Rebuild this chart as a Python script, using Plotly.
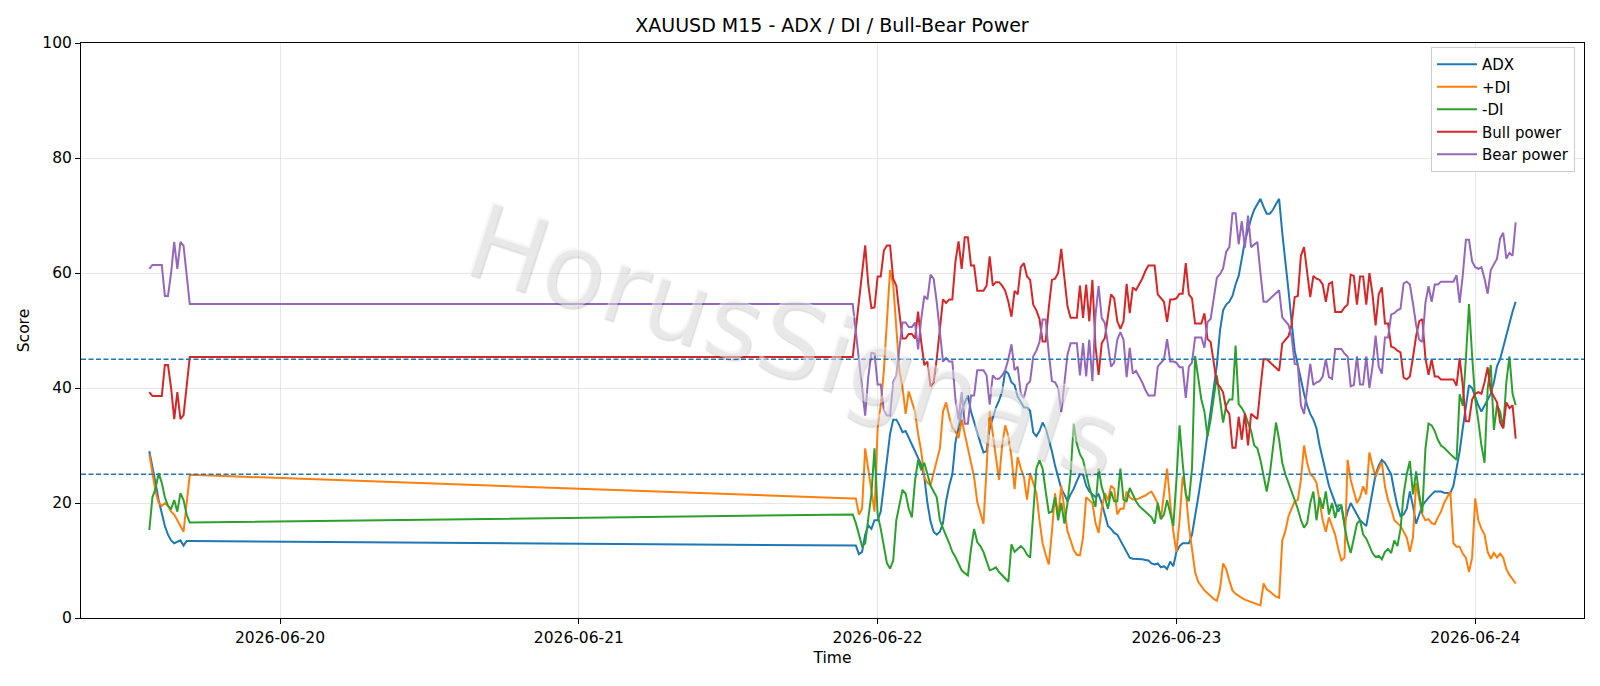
import pandas as pd
import plotly.graph_objects as go

# ---- time axis: Friday session then the new week (15-minute bars) ----
times_fri = pd.date_range("2026-06-19 13:30", periods=14, freq="15min")
times_week = pd.date_range("2026-06-21 22:00", periods=214, freq="15min")
times = list(times_fri) + list(times_week)

adx = [29, 26.5, 23.5, 20.5, 18, 16, 14.5, 13.5, 13, 13.2, 13.5, 12.6, 13.4, 13.4,
       12.6, 12.6, 11.1, 11.5, 14.5, 16.1, 15.5, 17, 17, 18.5,
       23, 28, 32, 34.5, 34.5, 33.5, 32.3, 32.5, 31.3, 30,
       28.8, 27.7, 26.7, 24.5, 20, 16.8, 15, 14.5, 15, 16.5,
       20.3, 23, 25, 30.5, 33.5, 36, 37.5, 38.7, 35.9, 34,
       32.3, 30.5, 28.8, 29, 33, 35, 36.6, 37.8, 39.4, 43,
       42.5, 41, 40.5, 38.5, 37.5, 36.6, 36.6, 36, 32.3, 31.6,
       32.5, 34, 33, 31, 29, 26.5, 24.3, 22.5, 21.5, 20.3,
       21.5, 22.5, 23.8, 25, 25, 23, 22, 21.5, 21, 21.5,
       20, 18, 16, 15.5, 14.8, 14.5, 13.5, 12.5, 11.5, 10.5,
       10.3, 10.3, 10.2, 10.2, 10.1, 10, 9.5, 9.3, 9.5, 8.8,
       9, 8.5, 9.8, 9, 11.5, 12.5, 13, 13, 13, 14.5,
       17.5, 21, 24.5, 28, 32, 36, 40, 44, 50, 53.5,
       54.5, 55, 56, 58, 59.5, 62.5, 65.5, 67.5, 69.5, 71,
       72, 72.9, 71.5, 70.3, 70.3, 71, 72, 72.9, 67, 62.5,
       57, 51.5, 46.5, 44, 41.3, 39, 37, 35.5, 34.5, 33,
       30, 27.5, 25, 23, 21.5, 20, 18.5, 19.5, 16.5, 18.5,
       20, 19, 18, 17, 16.5, 16, 19, 22, 25, 26.5,
       27.5, 27, 26, 25, 22, 19.5, 17.7, 18, 19, 22,
       19.5, 16.4, 18, 19.5, 20.3, 21, 21.5, 22, 22, 22,
       21.8, 21.7, 21.7, 23, 26, 29, 33, 36.5, 40.5, 40,
       38.5, 37, 35.9, 37, 38, 39, 41, 43.8, 45, 47,
       49.5, 51.5, 53.3, 55]

plus_di = [28.5, 25, 22, 20, 19.5, 20, 19.5, 18.5, 18, 17, 16, 15, 20, 24.9,
           20.8, 20.8, 18, 19, 29.5, 26, 22, 18.5, 33, 37,
           43, 52, 60.5, 58, 50, 43, 40, 35.5, 39.4, 37.5,
           35.9, 32, 29, 24.5, 23.5, 23.1, 25.2, 27, 29.5, 35.9,
           37.5, 35, 33.1, 32.5, 31.3, 34.5, 32, 30, 27.5, 24.5,
           20.2, 18.5, 16.4, 26, 36, 32, 27.5, 24, 30, 33.5,
           31.6, 28, 22.4, 28, 26, 24.5, 20.6, 25.2, 23.5, 21.7,
           17, 13, 11, 9.3, 15, 21.7, 17.7, 23, 19, 15.1,
           13.5, 11.8, 11, 10.9, 14, 21, 20.5, 20, 16.5, 14.8,
           19, 21.7, 20.5, 23, 22.5, 18, 19, 19, 22, 21,
           20.6, 20.6, 20.8, 21, 21.3, 21.7, 22, 21, 19.9, 17.2,
           22, 26, 20, 15, 11.5, 17, 24.6, 22, 16, 11.8,
           8, 6.3, 5.5, 4.8, 4.3, 3.8, 3.3, 3, 5, 9.5,
           8.5, 6.5, 4.8, 4.2, 3.8, 3.5, 3.2, 3, 2.7, 2.5,
           2.3, 2.2, 6, 5, 4.6, 4.1, 3.7, 3.5, 13.5, 15.1,
           17.7, 19, 20.3, 20.5, 24, 30, 27, 25, 24.5, 23.5,
           20.5, 17, 15, 17.5, 16, 14.5, 12, 10, 10.5, 27.5,
           24, 22, 20, 21, 22.9, 21.5, 28.8, 26.5, 24.5, 26,
           27.1, 22.9, 20.5, 19, 17, 16.5, 16, 15, 14, 11.5,
           14, 23.5, 20.5, 18, 17, 17.2, 16.5, 16.3, 17.5, 18.5,
           20, 21, 22, 13, 12.4, 12.4, 11.2, 10.5, 8, 10.5,
           20.8, 17, 15.5, 14.5, 11.5, 10.3, 11.3, 10.5, 11.2, 10.5,
           8.5, 7.5, 6.8, 6]

minus_di = [15.3, 21, 22.5, 25.2, 23.5, 21, 19.5, 19, 20.5, 18.5, 21.7, 20.5, 18, 16.6,
            18, 16.5, 14.5, 12.5, 13, 17, 21.6, 29.5, 18, 15.5,
            12.5, 9.5, 8.6, 10, 17, 20, 22.3, 21.6, 19, 17.5,
            23.8, 27.5, 25.7, 27, 25, 23, 22, 21, 17, 15.5,
            14.3, 13, 11.5, 10.6, 9.5, 8.3, 7.8, 7.4, 12, 15.5,
            13.2, 12.5, 11.5, 9.8, 8.3, 8.5, 8.8, 8, 7.4, 6.9,
            6.3, 12.8, 11.5, 12, 12.5, 12, 11, 10.5, 18, 26,
            27.4, 26, 22, 18.3, 18.5, 21, 17, 20, 16.4, 20,
            25, 33.8, 30.3, 28.5, 27.5, 25, 22.8, 21, 19.3, 26,
            22.8, 21, 19, 22, 20.3, 20.3, 26, 20.6, 20.3, 22.6,
            21.5, 20.3, 19.5, 19, 18.5, 18, 17.5, 16.4, 20, 17.2,
            18, 20.5, 18, 16, 24, 33.5, 27, 21.5, 20.3, 26,
            45.6, 41.5, 38, 35.9, 31.6, 34.5, 38, 42.2, 38, 34,
            37, 38, 38, 47.4, 37.2, 36.5, 35.5, 34, 32.5, 30,
            29.5, 27.5, 25, 22, 25, 30, 34, 31, 27, 25,
            23.5, 22, 20.5, 19, 17, 15.7, 16.5, 20, 22, 17,
            21, 19, 22, 18, 20, 17.4, 19.6, 19.6, 16, 13.2,
            11.3, 14, 16.4, 17, 14.5, 13.8, 12.5, 11.3, 10.6, 10.8,
            10.2, 11.5, 12, 11.3, 13.5, 12.5, 15.5, 21.5, 25, 27.3,
            21.5, 25.5, 21.5, 18.3, 29.4, 33.8, 33.5, 32.5, 31, 30,
            29.6, 29, 28.5, 28, 27.5, 38.9, 36.9, 45, 54.6, 45.6,
            38, 34.3, 30, 27, 39.9, 44, 32.7, 37, 35.9, 33,
            41, 45.5, 39, 37]

bull_power = [39.3, 38.6, 38.6, 38.6, 38.6, 44, 44, 40, 34.6, 39.3, 34.6, 35.3, 40.5, 45.4,
              45.4, 50, 55, 60, 64.8, 58, 53.9, 54, 59.4, 59.4,
              63.9, 64.8, 64.8, 59, 57.8, 53, 48.6, 48.6, 49.4, 49.4,
              48.6, 53.3, 48, 44, 44.6, 40.3, 41, 45.1, 50, 55.4,
              54.8, 55.4, 55.4, 62, 65.5, 60.7, 66.2, 66.2, 61.3, 61.3,
              56.9, 56.9, 56.9, 57.8, 62.9, 57.8, 58.4, 58.4, 57.8, 56.9,
              55, 52.4, 56.9, 56.3, 61, 61.7, 59.4, 58.8, 54.5, 53.5,
              52, 48.1, 48.1, 54, 58.8, 59, 60, 64.2, 59.4, 54.2,
              52.2, 52.2, 52.2, 57.8, 52.2, 58, 51.6, 58.8, 47.3, 42.3,
              47.8, 48.7, 53, 56.3, 55.6, 51.6, 50.3, 51.6, 58.1, 53,
              57.5, 57, 58, 59, 60.3, 61.3, 61.3, 61.3, 56.3, 55.6,
              55, 51.5, 55.4, 55.4, 55.6, 56.4, 56.4, 61.7, 56.3, 55.6,
              51.2, 51.2, 51.2, 53, 48.5, 48, 44, 40.8, 40.2, 39.2,
              36.3, 35.5, 29.6, 29.6, 35, 31, 35.6, 30, 35.5, 35,
              34.6, 40, 45, 45, 44.5, 44, 43.5, 43, 47.7, 48.3,
              49, 51, 55.8, 56, 63, 64.5, 60, 55.8, 59.5, 59,
              58.8, 58, 55, 58.1, 58.4, 53.2, 53.2, 53.2, 54, 54.5,
              59.7, 59.5, 54.5, 59.4, 59.4, 54.5, 60, 56.3, 50.9, 56.3,
              57.5, 51.2, 51.2, 47.2, 47, 46.5, 46.2, 41.8, 41.5, 42,
              45.3, 49, 51.6, 52, 45.2, 42.3, 45, 42, 42, 41.5,
              41.5, 41.5, 41.5, 41.5, 40.4, 45.2, 40.4, 34.2, 34.2, 38,
              39, 39.3, 39, 41, 43.6, 39.5, 38.5, 37.5, 34, 33,
              37.5, 36.5, 37, 31.2]

bear_power = [60.7, 61.4, 61.4, 61.4, 61.4, 56, 56, 60, 65.4, 60.7, 65.4, 64.7, 59.5, 54.6,
              54.6, 50, 45, 40, 35.2, 42, 46.1, 46, 40.6, 40.6,
              36.1, 35.2, 35.2, 41, 42.2, 47, 51.4, 51.4, 50.6, 50.6,
              51.4, 46.7, 52, 56, 55.4, 59.7, 59, 54.9, 50, 44.6,
              45.2, 44.6, 44.6, 38, 34.5, 39.3, 33.8, 33.8, 38.7, 38.7,
              43.1, 43.1, 43.1, 42.2, 37.1, 42.2, 41.6, 41.6, 42.2, 43.1,
              45, 47.6, 43.1, 43.7, 39, 38.3, 40.6, 41.2, 45.5, 46.5,
              48, 51.9, 51.9, 46, 41.2, 41, 40, 35.8, 40.6, 45.8,
              47.8, 47.8, 47.8, 42.2, 47.8, 42, 48.4, 41.2, 52.7, 57.7,
              52.2, 51.3, 47, 43.7, 44.4, 48.4, 49.7, 48.4, 41.9, 47,
              42.5, 43, 42, 41, 39.7, 38.7, 38.7, 38.7, 43.7, 44.4,
              45, 48.5, 44.6, 44.6, 44.4, 43.6, 43.6, 38.3, 43.7, 44.4,
              48.8, 48.8, 48.8, 47, 51.5, 52, 56, 59.2, 59.8, 60.8,
              63.7, 64.5, 70.4, 70.4, 65, 69, 64.4, 70, 64.5, 65,
              65.4, 60, 55, 55, 55.5, 56, 56.5, 57, 52.3, 51.7,
              51, 49, 44.2, 44, 37, 35.5, 40, 44.2, 40.5, 41,
              41.2, 42, 45, 41.9, 41.6, 46.8, 46.8, 46.8, 46, 45.5,
              40.3, 40.5, 45.5, 40.6, 40.6, 45.5, 40, 43.7, 49.1, 43.7,
              42.5, 48.8, 48.8, 52.8, 53, 53.5, 53.8, 58.2, 58.5, 58,
              54.7, 51, 48.4, 48, 54.8, 57.7, 55, 58, 58, 58.5,
              58.5, 58.5, 58.5, 58.5, 59.6, 54.8, 59.6, 65.8, 65.8, 62,
              61, 60.7, 61, 59, 56.4, 60.5, 61.5, 62.5, 66, 67,
              62.5, 63.5, 63, 68.8]

ref_levels = [25, 45]
tick_dates = ["2026-06-20", "2026-06-21", "2026-06-22", "2026-06-23", "2026-06-24"]

series = [("ADX", adx, "#1f77b4"), ("+DI", plus_di, "#ff7f0e"), ("-DI", minus_di, "#2ca02c"),
          ("Bull power", bull_power, "#d62728"), ("Bear power", bear_power, "#9467bd")]
for name, vals, _ in series:
    assert len(vals) == len(times), (name, len(vals), len(times))

FONT = "DejaVu Sans, Liberation Sans, sans-serif"
fig = go.Figure()
for name, vals, color in series:
    fig.add_trace(go.Scatter(x=times, y=vals, mode="lines", name=name,
                             line=dict(color=color, width=2)))

for lvl in ref_levels:
    fig.add_shape(type="line", xref="paper", x0=0, x1=1, yref="y", y0=lvl, y1=lvl,
                  line=dict(color="#1f77b4", width=1.4, dash="5px,2.5px"), layer="above")

fig.add_annotation(text="HorusSignals", xref="paper", yref="paper", x=0.474, y=0.481,
                   showarrow=False, textangle=18,
                   font=dict(family=FONT, size=104, color="rgba(242,242,242,0.5)",
                             shadow="2px 2px 1px rgba(0,0,0,0.25)"))

fig.update_layout(
    width=1600, height=686,
    margin=dict(l=81, r=16, t=43, b=68),
    paper_bgcolor="white", plot_bgcolor="white",
    font=dict(family=FONT, size=15.5, color="black"),
    title=dict(text="XAUUSD M15 - ADX / DI / Bull-Bear Power", x=0.52, xanchor="center",
               y=1 - 25.5 / 686, yanchor="middle", yref="container",
               font=dict(size=19, family=FONT, color="black")),
    legend=dict(x=0.994, y=0.993, xanchor="right", yanchor="top",
                bgcolor="rgba(255,255,255,0.85)", bordercolor="#cccccc", borderwidth=1,
                font=dict(size=15, family=FONT), itemwidth=40),
    showlegend=True,
)
fig.update_xaxes(range=["2026-06-19 08:00:45", "2026-06-24 08:44:15"],
                 tickvals=tick_dates, tickformat="%Y-%m-%d",
                 tickfont=dict(size=15.5),
                 showline=True, linecolor="black", linewidth=1, mirror=True,
                 ticks="outside", ticklen=5, tickcolor="black",
                 showgrid=True, gridcolor="#e6e6e6", gridwidth=1, zeroline=False,
                 title=dict(text="Time", standoff=6, font=dict(size=15.5)))
fig.update_yaxes(range=[0, 100], tickvals=[0, 20, 40, 60, 80, 100],
                 tickfont=dict(size=15.5),
                 showline=True, linecolor="black", linewidth=1, mirror=True,
                 ticks="outside", ticklen=5, tickcolor="black",
                 showgrid=True, gridcolor="#e6e6e6", gridwidth=1, zeroline=False,
                 title=dict(text="Score", standoff=8, font=dict(size=15.5)))

fig.write_html("out.html")
